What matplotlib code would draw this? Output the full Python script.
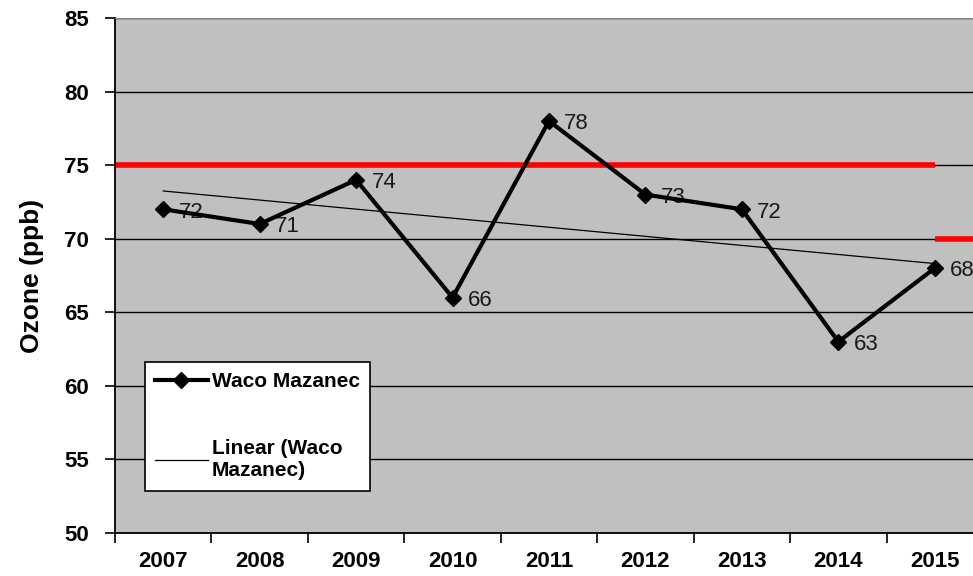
import numpy as np
import matplotlib.pyplot as plt

plt.rcParams['font.family'] = ['Liberation Sans', 'DejaVu Sans']

# Annual ozone design values
years = ['2007', '2008', '2009', '2010', '2011', '2012', '2013', '2014', '2015']
ozone = [72, 71, 74, 66, 78, 73, 72, 63, 68]
std_old = 75   # standard through 2015
std_new = 70   # standard from 2015

x = np.arange(len(years))
slope, intercept = np.polyfit(x, ozone, 1)
trend = slope * x + intercept

fig = plt.figure(figsize=(9.73, 5.76), dpi=100)
ax = fig.add_axes([115 / 973, 1 - 533 / 576, 868 / 973, 515 / 576])
ax.set_facecolor('#c0c0c0')

ax.set_xlim(-0.5, 8.5)
ax.set_ylim(50, 85)
ax.set_yticks(np.arange(50, 86, 5))
ax.grid(axis='y', color='black', linewidth=1)
ax.set_axisbelow(True)

# regulatory standard lines
ax.plot([-0.5, 8], [std_old, std_old], color='red', linewidth=4, solid_capstyle='butt', zorder=2)
ax.plot([8, 8.5], [std_new, std_new], color='red', linewidth=4, solid_capstyle='butt', zorder=2)

ax.plot(x, ozone, color='black', linewidth=3, marker='D', markersize=8,
        label='Waco Mazanec', zorder=4)
ax.plot(x, trend, color='black', linewidth=0.9, label='Linear (Waco\nMazanec)', zorder=3)

for xi, v in zip(x, ozone):
    ax.annotate(str(v), (xi, v), xytext=(11, -2), textcoords='offset points',
                ha='left', va='center', fontsize=16, color='#1a1a1a')

# category labels centered, ticks on boundaries
ax.set_xticks(np.arange(-0.5, 9, 1))
ax.set_xticklabels([])
ax.set_xticks(x, minor=True)
ax.set_xticklabels(years, minor=True, fontsize=16, fontweight='bold')
ax.tick_params(axis='x', which='minor', length=0, pad=13)
ax.tick_params(axis='x', which='major', length=7, width=1.2, direction='out')
ax.tick_params(axis='y', length=7, width=1.2, labelsize=16, pad=12)
for lbl in ax.get_yticklabels():
    lbl.set_fontweight('bold')

ax.set_ylabel('Ozone (ppb)', fontsize=19, fontweight='bold', labelpad=14)

for side in ['left', 'bottom']:
    ax.spines[side].set_linewidth(1.3)
ax.spines['top'].set_color('#888888')
ax.spines['right'].set_visible(False)

leg = ax.legend(loc='upper left', bbox_to_anchor=(0.0346, 0.332),
                prop={'weight': 'bold', 'size': 15}, frameon=True, fancybox=False,
                edgecolor='black', framealpha=1, borderpad=0.5, labelspacing=2.3,
                handlelength=2.5, handletextpad=0.2, borderaxespad=0)
leg.get_frame().set_linewidth(1.2)

fig.savefig('out.png', dpi=100)
